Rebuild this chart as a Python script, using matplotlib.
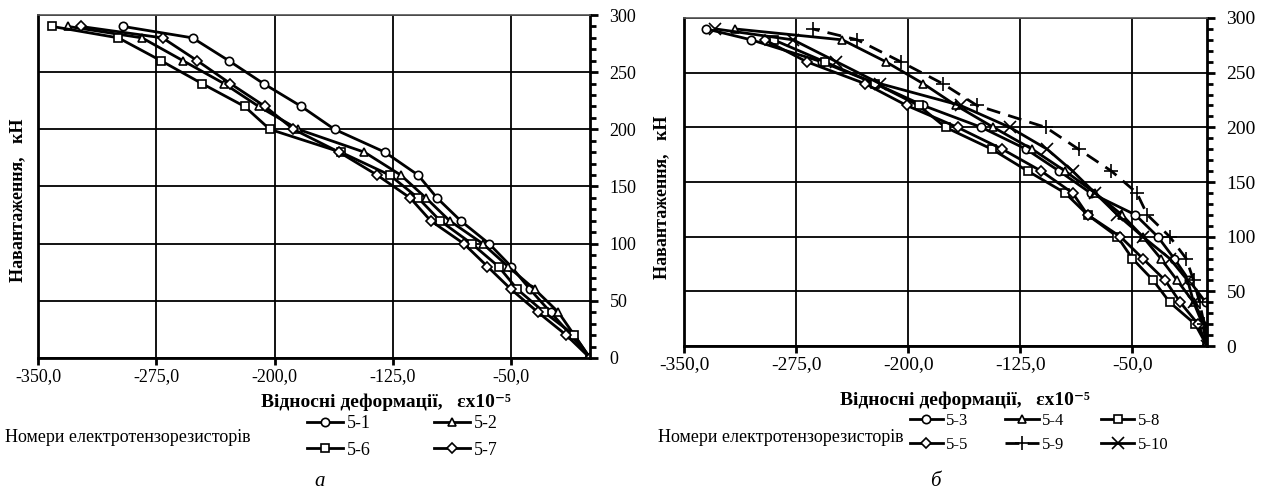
import numpy as np
import matplotlib
matplotlib.use("Agg")
import matplotlib.pyplot as plt
from matplotlib.ticker import MultipleLocator

plt.rcParams['font.family'] = ['Liberation Serif', 'DejaVu Serif']

# ---- data: loads (kN) and relative strains (x10^-5) ----
loads_a = [0, 20, 40, 60, 80, 100, 120, 140, 160, 180, 200, 220, 240, 260, 280, 290]
strain_5_1 = [0, -12, -25, -38, -50, -64, -82, -97, -109, -130, -162, -183, -207, -229, -252, -296]
strain_5_2 = [0, -10, -20, -35, -52, -68, -89, -104, -120, -143, -185, -210, -232, -258, -284, -331]
strain_5_6 = [0, -10, -29, -46, -58, -75, -95, -109, -127, -158, -203, -219, -246, -272, -299, -341]
strain_5_7 = [0, -15, -33, -50, -65, -80, -101, -114, -135, -159, -188, -206, -228, -249, -271, -323]

loads_b = [0, 20, 40, 60, 80, 100, 120, 140, 160, 180, 200, 220, 240, 260, 280, 290]
loads_5_3 = [40, 60, 80, 100, 120, 140, 160, 180, 200, 220, 240, 260, 280, 290]
strain_5_3 = [-1, -12, -22, -33, -48, -78, -99, -121, -151, -190, -222, -258, -305, -335]
strain_5_4 = [0, -3, -9, -20, -31, -43, -57, -75, -95, -117, -143, -168, -190, -215, -244, -316]
loads_5_8 = [0, 20, 40, 60, 80, 100, 120, 140, 160, 180, 200, 220, 240, 260, 280]
strain_5_8 = [0, -8, -25, -36, -50, -60, -80, -95, -120, -144, -175, -193, -222, -256, -290]
strain_5_5 = [0, -6, -18, -28, -43, -58, -80, -90, -111, -137, -167, -201, -229, -268, -296]
strain_5_9 = [0, -2, -5, -9, -14, -25, -40, -47, -64, -86, -108, -154, -177, -205, -234, -264]
strain_5_10 = [0, -1, -9, -13, -25, -43, -60, -75, -90, -107, -132, -165, -219, -248, -277, -329]

xticks = [-350, -275, -200, -125, -50]
xticklabels = ["-350,0", "-275,0", "-200,0", "-125,0", "-50,0"]
yticks = [0, 50, 100, 150, 200, 250, 300]

xlabel = "Відносні деформації,   εx10⁻⁵"
ylabel = "Навантаження,   кН"
legend_title = "Номери електротензорезисторів"

fig = plt.figure(figsize=(12.71, 4.97), dpi=100)
ax_a = fig.add_axes([0.0299, 0.2797, 0.4343, 0.6901])
ax_b = fig.add_axes([0.5382, 0.3038, 0.4115, 0.6600])

line_kw = dict(color="black", lw=2.0, markersize=6, markerfacecolor="white",
               markeredgecolor="black", markeredgewidth=1.2)


def style_axes(ax, label_size):
    ax.set_xlim(-350, 0)
    ax.set_ylim(0, 300)
    ax.set_xticks(xticks)
    ax.set_xticklabels(xticklabels, fontsize=label_size)
    ax.yaxis.tick_right()
    ax.set_yticks(yticks)
    ax.set_yticklabels([str(v) for v in yticks], fontsize=label_size)
    ax.yaxis.set_minor_locator(MultipleLocator(10))
    ax.tick_params(axis="y", which="major", direction="out", length=6, width=2, pad=8)
    ax.tick_params(axis="y", which="minor", direction="out", length=4, width=2)
    ax.tick_params(axis="x", direction="out", length=5, width=2, pad=2)
    ax.grid(True, color="black", lw=1.3)
    ax.set_axisbelow(True)
    for side in ["left", "bottom", "right"]:
        ax.spines[side].set_linewidth(2)
    ax.spines["top"].set_linewidth(1.2)
    ax.spines["top"].set_color("#555555")


# ---- chart a ----
la1, = ax_a.plot(strain_5_1, loads_a, marker="o", label="5-1", **line_kw)
la2, = ax_a.plot(strain_5_2, loads_a, marker="^", label="5-2", **line_kw)
la6, = ax_a.plot(strain_5_6, loads_a, marker="s", label="5-6", **line_kw)
la7, = ax_a.plot(strain_5_7, loads_a, marker="D", label="5-7",
                 **{**line_kw, "markersize": 5})
style_axes(ax_a, 13)

# ---- chart b ----
lb3, = ax_b.plot(strain_5_3, loads_5_3, marker="o", label="5-3", **line_kw)
lb4, = ax_b.plot(strain_5_4, loads_b, marker="^", label="5-4", **line_kw)
lb8, = ax_b.plot(strain_5_8, loads_5_8, marker="s", label="5-8", **line_kw)
lb5, = ax_b.plot(strain_5_5, loads_b[:len(strain_5_5)], marker="D", label="5-5",
                 **{**line_kw, "markersize": 5})
lb9, = ax_b.plot(strain_5_9, loads_b, marker="+", label="5-9", ls=(0, (5, 3)),
                 **{**line_kw, "markersize": 10})
lb10, = ax_b.plot(strain_5_10, loads_b, marker="x", label="5-10",
                  **{**line_kw, "markersize": 8})
style_axes(ax_b, 14)

# ---- labels ----
fig.text(18 / 1271, 1 - 200 / 497, ylabel, rotation=90, ha="center", va="center",
         fontsize=13, fontweight="bold")
fig.text(662 / 1271, 1 - 197 / 497, ylabel, rotation=90, ha="center", va="center",
         fontsize=13, fontweight="bold")
fig.text(386 / 1271, 1 - 402 / 497, xlabel, ha="center", va="center",
         fontsize=14, fontweight="bold")
fig.text(965 / 1271, 1 - 400 / 497, xlabel, ha="center", va="center",
         fontsize=14, fontweight="bold")

fig.text(5 / 1271, 1 - 437 / 497, legend_title, ha="left", va="center", fontsize=13)
fig.text(658 / 1271, 1 - 437 / 497, legend_title, ha="left", va="center", fontsize=13)

leg_kw = dict(frameon=False, handlelength=2.0, handletextpad=0.2,
              borderaxespad=0, loc="center left")
fig.legend([la1, la6, la2, la7], ["5-1", "5-6", "5-2", "5-7"], ncol=2, fontsize=13,
           labelspacing=0.5, columnspacing=3.5,
           bbox_to_anchor=(300 / 1271, 1 - 437 / 497), **leg_kw)
fig.legend([lb3, lb5, lb4, lb9, lb8, lb10], ["5-3", "5-5", "5-4", "5-9", "5-8", "5-10"],
           ncol=3, fontsize=12, labelspacing=0.45, columnspacing=2.2,
           bbox_to_anchor=(903 / 1271, 1 - 433 / 497), **leg_kw)

fig.text(320 / 1271, 1 - 482 / 497, "а", ha="center", va="center", fontsize=15, style="italic")
fig.text(935 / 1271, 1 - 482 / 497, "б", ha="center", va="center", fontsize=15, style="italic")

fig.savefig("out.png", dpi=100)
